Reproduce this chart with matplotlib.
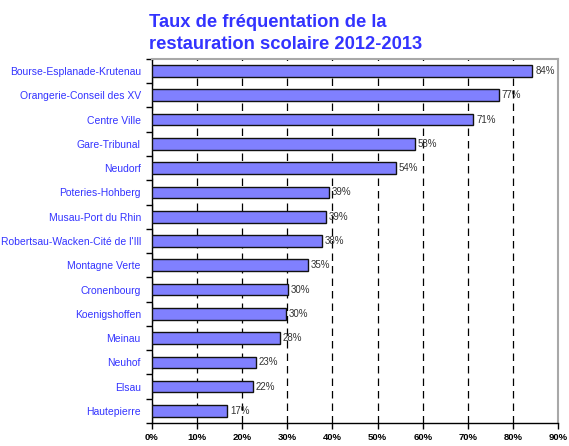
import numpy as np
import matplotlib
matplotlib.use("Agg")
import matplotlib.pyplot as plt
from matplotlib.ticker import FixedLocator

# quartiers, du haut vers le bas
quartiers = ["Bourse-Esplanade-Krutenau", "Orangerie-Conseil des XV", "Centre Ville",
             "Gare-Tribunal", "Neudorf", "Poteries-Hohberg", "Musau-Port du Rhin",
             "Robertsau-Wacken-Cité de l'Ill", "Montagne Verte", "Cronenbourg",
             "Koenigshoffen", "Meinau", "Neuhof", "Elsau", "Hautepierre"]
taux = [84.3, 76.8, 71.2, 58.2, 54.0, 39.2, 38.6, 37.7, 34.6, 30.2,
        29.7, 28.4, 23.0, 22.4, 16.7]
etiquettes = ["84%", "77%", "71%", "58%", "54%", "39%", "39%", "38%", "35%",
              "30%", "30%", "28%", "23%", "22%", "17%"]
xticks = [0, 10, 20, 30, 40, 50, 60, 70, 80, 90]

plt.rcParams['font.family'] = ['Liberation Sans', 'DejaVu Sans']

fig = plt.figure(figsize=(5.69, 4.46), dpi=100)
ax = fig.add_axes([0.267, 0.0515, 0.714, 0.8165])

n = len(quartiers)
y = np.arange(n)[::-1]
ax.barh(y, taux, height=0.48, color='#8080ff', edgecolor='#111111', linewidth=1.0, zorder=3)

for yi, v, lab in zip(y, taux, etiquettes):
    ax.annotate(lab, (v, yi), xytext=(2, 0), textcoords='offset points',
                ha='left', va='center', fontsize=7, color='#333333', zorder=4)

ax.set_xlim(0, 90)
ax.set_ylim(-0.5, n - 0.5)
ax.set_xticks(xticks)
ax.set_xticklabels([f"{t}%" for t in xticks], fontweight='bold', fontsize=6.8)

ax.set_yticks(y)
ax.set_yticklabels(quartiers, color='#3333ff', fontsize=7.5)
ax.tick_params(axis='y', length=0, pad=8)
ax.yaxis.set_minor_locator(FixedLocator(np.arange(-0.5, n, 1.0)))
ax.tick_params(axis='y', which='minor', length=4, direction='out', width=1, color='black')
ax.tick_params(axis='x', length=4, direction='out', width=1, pad=3)

ax.xaxis.grid(True, color='black', linestyle=(0, (6, 4)), linewidth=0.9, zorder=1)
ax.set_axisbelow(True)

for s in ['left', 'bottom']:
    ax.spines[s].set_color('black')
    ax.spines[s].set_linewidth(1.0)
for s in ['top', 'right']:
    ax.spines[s].set_color('#a8a8a8')
    ax.spines[s].set_linewidth(1.5)

fig.text(0.262, 0.968, "Taux de fréquentation de la\nrestauration scolaire 2012-2013",
         ha='left', va='top', fontsize=13.2, fontweight='bold', color='#3333ff',
         linespacing=1.35)

fig.savefig("out.png", dpi=100)
